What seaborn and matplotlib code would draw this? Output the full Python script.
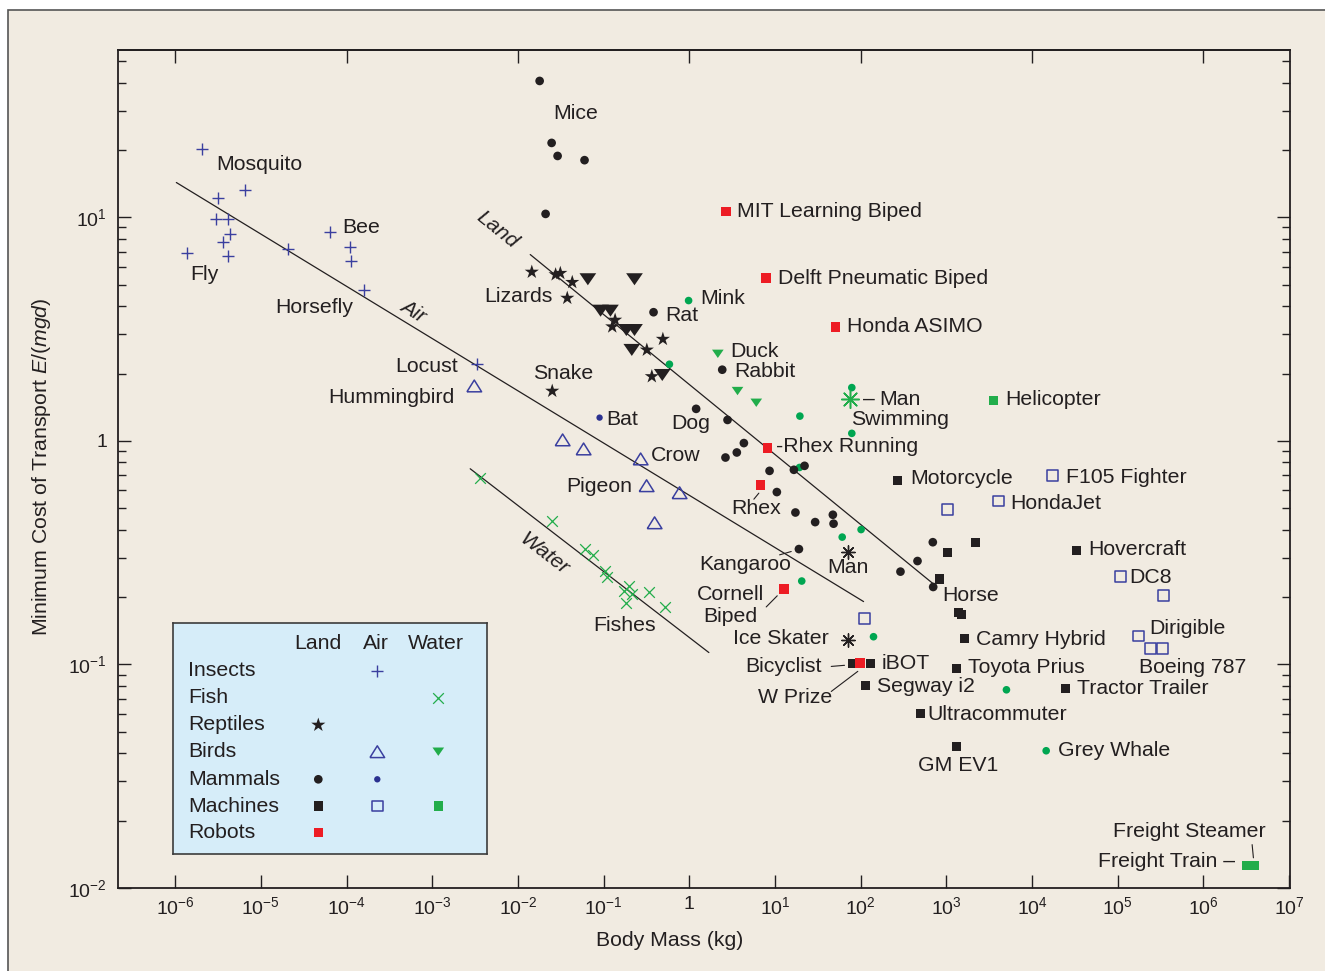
import matplotlib
matplotlib.use('Agg')
import matplotlib.pyplot as plt
from matplotlib.patches import Rectangle
from matplotlib.ticker import FixedLocator, FixedFormatter, NullLocator, NullFormatter, LogLocator
import numpy as np
import seaborn as sns

sns.set_style('ticks')
plt.rcParams['font.family'] = ['Liberation Sans', 'DejaVu Sans']
plt.rcParams['mathtext.fontset'] = 'custom'
plt.rcParams['mathtext.rm'] = 'Liberation Sans'
plt.rcParams['mathtext.it'] = 'Liberation Sans:italic'
plt.rcParams['mathtext.bf'] = 'Liberation Sans:bold'

INK = '#231f20'
BLUE = '#3a3f9f'
DBLUE = '#2b3190'
GREEN = '#22ad4b'
GDOT = '#00a651'
RED = '#ed1c24'
BEIGE = '#f1ebe1'
LEGEND_BG = '#d6edf9'
FS = 15.3

# ---------------- data: body mass (kg) / cost of transport ----------------
insects_mass = [2.07e-6, 3.18e-6, 6.45e-6, 3.02e-6, 4.09e-6, 4.31e-6, 3.57e-6, 1.36e-6,
                4.09e-6, 2.09e-5, 6.33e-5, 1.11e-4, 1.14e-4, 1.58e-4, 3.31e-3]
insects_cost = [20.2, 12.2, 13.2, 9.83, 9.83, 8.42, 7.76, 6.92, 6.71, 7.21, 8.59, 7.37, 6.38, 4.73, 2.20]

fish_mass = [3.6e-3, 0.0247, 0.0598, 0.0748, 0.105, 0.109, 0.195, 0.175, 0.216, 0.183, 0.337, 0.523]
fish_cost = [0.683, 0.439, 0.327, 0.310, 0.262, 0.245, 0.225, 0.212, 0.207, 0.189, 0.211, 0.180]

reptiles_mass = [0.0145, 0.0275, 0.0312, 0.043, 0.0376, 0.136, 0.126, 0.491, 0.319, 0.365, 0.0251]
reptiles_cost = [5.69, 5.54, 5.62, 5.12, 4.35, 3.47, 3.24, 2.85, 2.55, 1.94, 1.67]

birds_land_mass = [0.0654, 0.229, 0.092, 0.120, 0.184, 0.229, 0.213, 0.483]
birds_land_cost = [5.28, 5.28, 3.82, 3.82, 3.13, 3.13, 2.55, 1.97]

birds_air_mass = [3.09e-3, 0.0332, 0.0583, 0.27, 0.317, 0.769, 0.393]
birds_air_cost = [1.76, 1.01, 0.92, 0.83, 0.63, 0.586, 0.43]

birds_water_mass = [2.15, 3.65, 6.04]
birds_water_cost = [2.45, 1.67, 1.48]

mammals_land_mass = [0.0179, 0.0247, 0.029, 0.0598, 0.021, 0.382, 2.42, 1.20, 2.79, 4.33, 3.58,
                     2.64, 8.63, 16.6, 22.1, 10.5, 17.3, 29.4, 47.3, 48.2, 19.0, 694, 460, 291, 701]
mammals_land_cost = [40.7, 21.5, 18.8, 18.0, 10.35, 3.76, 2.08, 1.39, 1.24, 0.977, 0.887,
                     0.842, 0.734, 0.742, 0.773, 0.590, 0.478, 0.433, 0.467, 0.426, 0.328,
                     0.352, 0.290, 0.260, 0.222]

mammals_water_mass = [0.98, 0.585, 19.5, 78.7, 78.7, 19.3, 101, 60.8, 20.5, 141, 5020, 14600]
mammals_water_cost = [4.24, 2.20, 1.29, 1.73, 1.08, 0.76, 0.401, 0.371, 0.236, 0.133, 0.077, 0.0411]

mammals_air_mass = [0.0896]
mammals_air_cost = [1.27]

humans_land_mass = [70.8, 70.8]          # man running, ice skater
humans_land_cost = [0.318, 0.128]
humans_water_mass = [74.6]               # man swimming
humans_water_cost = [1.54]

machines_land_mass = [271, 1038, 2200, 838, 1395, 1487, 1640, 32700, 1300, 24300, 502, 1300,
                      79.6, 129, 115]
machines_land_cost = [0.663, 0.318, 0.352, 0.241, 0.171, 0.168, 0.131, 0.322, 0.0960, 0.0781,
                      0.0604, 0.043, 0.1007, 0.1014, 0.0805]

machines_air_mass = [17400, 4090, 1038, 108000, 339000, 176000, 239000, 335000, 111]
machines_air_cost = [0.698, 0.539, 0.493, 0.247, 0.203, 0.134, 0.1175, 0.1175, 0.161]

machines_water_mass = [3570, 3.18e6, 3.94e6]
machines_water_cost = [1.51, 0.0126, 0.0126]

robots_mass = [2.69, 7.89, 50.8, 8.17, 6.78, 12.8, 97.6]
robots_cost = [10.6, 5.34, 3.23, 0.928, 0.636, 0.217, 0.1014]

# fitted trend lines (end points)
air_line_mass = [1.03e-6, 108]
air_line_cost = [14.3, 0.191]
land_line_mass = [0.0139, 726]
land_line_cost = [6.81, 0.227]
water_line_mass = [2.77e-3, 1.69]
water_line_cost = [0.750, 0.113]

# annotation text: (text, log10 mass, log10 cost, ha)
labels = [
    ('Mosquito', -5.517, 1.234, 'left'), ('Fly', -5.819, 0.742, 'left'),
    ('Horsefly', -4.828, 0.595, 'left'), ('Bee', -4.050, 0.952, 'left'),
    ('Locust', -2.701, 0.332, 'right'), ('Hummingbird', -2.740, 0.192, 'right'),
    ('Mice', -1.585, 1.462, 'left'), ('Lizards', -2.390, 0.644, 'left'),
    ('Rat', -0.281, 0.559, 'left'), ('Mink', 0.127, 0.635, 'left'),
    ('Snake', -1.826, 0.300, 'left'), ('Duck', 0.481, 0.399, 'left'),
    ('Rabbit', 0.519, 0.312, 'left'), ('Bat', -0.970, 0.094, 'left'),
    ('Dog', -0.211, 0.079, 'left'), ('Crow', -0.445, -0.067, 'left'),
    ('Pigeon', -0.663, -0.204, 'right'), ('Rhex', 0.489, -0.304, 'left'),
    ('-Rhex Running', 1.014, -0.025, 'left'), ('–', 2.021, 0.186, 'left'),
    ('Man', 2.219, 0.186, 'left'), ('Swimming', 1.889, 0.097, 'left'),
    ('Kangaroo', 0.119, -0.551, 'left'), ('Man', 1.604, -0.566, 'left'),
    ('Cornell', 0.092, -0.688, 'left'), ('Biped', 0.166, -0.785, 'left'),
    ('Fishes', -1.118, -0.827, 'left'), ('Ice Skater', 1.624, -0.882, 'right'),
    ('Bicyclist', 0.656, -1.009, 'left'), ('W Prize', 0.807, -1.150, 'left'),
    ('iBOT', 2.246, -0.998, 'left'), ('Segway i2', 2.188, -1.098, 'left'),
    ('Ultracommuter', 2.783, -1.225, 'left'), ('GM EV1', 2.666, -1.453, 'left'),
    ('Grey Whale', 4.300, -1.386, 'left'), ('Toyota Prius', 3.250, -1.016, 'left'),
    ('Tractor Trailer', 4.522, -1.109, 'left'), ('Boeing 787', 5.253, -1.016, 'left'),
    ('Freight Steamer', 4.942, -1.747, 'left'), ('Freight Train –', 4.767, -1.881, 'left'),
    ('Camry Hybrid', 3.348, -0.890, 'left'), ('Dirigible', 5.370, -0.840, 'left'),
    ('Horse', 2.951, -0.693, 'left'), ('Hovercraft', 4.659, -0.487, 'left'),
    ('DC8', 5.138, -0.611, 'left'), ('Motorcycle', 2.581, -0.169, 'left'),
    ('HondaJet', 3.744, -0.279, 'left'), ('F105 Fighter', 4.390, -0.164, 'left'),
    ('Helicopter', 3.686, 0.183, 'left'), ('MIT Learning Biped', 0.559, 1.024, 'left'),
    ('Delft Pneumatic Biped', 1.033, 0.727, 'left'), ('Honda ASIMO', 1.838, 0.510, 'left'),
]
# leader lines (log10 mass pair, log10 cost pair)
leaders = [
    ((0.811, 0.753), (-0.234, -0.261)), ((1.053, 1.189), (-0.510, -0.495)),
    ((0.897, 1.026), (-0.743, -0.693)), ((1.656, 1.811), (-1.009, -1.004)),
    ((1.656, 1.966), (-1.121, -1.031)), ((6.568, 6.583), (-1.806, -1.865)),
]
# trend line names: (text, log10 mass, log10 cost, rotation)
line_names = [('Land', -2.237, 0.943, -39), ('Air', -3.230, 0.581, -31.5),
              ('Water', -1.701, -0.505, -37.5)]

xticks = [10.0 ** k for k in range(-6, 8)]
xtick_labels = [r'$10^{%d}$' % k if k != 0 else '1' for k in range(-6, 8)]
yticks = [1e-2, 1e-1, 1, 10]
ytick_labels = [r'$10^{-2}$', r'$10^{-1}$', '1', r'$10^{1}$']

# marker shapes
TRI_DOWN = [(-1, 0.72), (1, 0.72), (0, -0.72), (-1, 0.72)]
TRI_UP = [(-1, -0.8), (1, -0.8), (0, 0.8), (-1, -0.8)]
ASTER = (8, 2, 0)

styles = {
    'insects': dict(marker='+', s=79, color=BLUE, linewidth=1.0),
    'fish': dict(marker='x', s=59, color=GREEN, linewidth=0.9),
    'reptiles': dict(marker='*', s=115, color=INK, edgecolor='none', linewidth=0),
    'birds_land': dict(marker=TRI_DOWN, s=145, color=INK, edgecolor='none', linewidth=0),
    'birds_air': dict(marker=TRI_UP, s=112, color=BLUE, facecolor='none', edgecolor=BLUE, linewidth=1.1),
    'birds_water': dict(marker=TRI_DOWN, s=70, color=GREEN, edgecolor='none', linewidth=0),
    'mammals_land': dict(marker='o', s=39, color=INK, edgecolor='none', linewidth=0),
    'mammals_air': dict(marker='o', s=21, color=DBLUE, edgecolor='none', linewidth=0),
    'mammals_water': dict(marker='o', s=30, color=GDOT, edgecolor='none', linewidth=0),
    'machines_land': dict(marker='s', s=42, color=INK, edgecolor='none', linewidth=0),
    'machines_air': dict(marker='s', s=59, color=BLUE, facecolor='none', edgecolor=BLUE, linewidth=1.1),
    'machines_water': dict(marker='s', s=42, color=GREEN, edgecolor='none', linewidth=0),
    'robots': dict(marker='s', s=47, color=RED, edgecolor='none', linewidth=0),
}

fig = plt.figure(figsize=(13.25, 9.71), dpi=100)
fig.patch.set_facecolor('white')
fig.add_artist(Rectangle((8 / 1325, -0.02), 1.02, 0.02 + 1 - 10 / 971, transform=fig.transFigure,
                         facecolor=BEIGE, edgecolor='#555555', lw=1.2, zorder=-10))

ax = fig.add_axes([118 / 1325, 83 / 971, 1172 / 1325, 838 / 971])
ax.set_facecolor(BEIGE)
ax.set_xscale('log')
ax.set_yscale('log')

# trend lines
for lm, lc in [(air_line_mass, air_line_cost), (land_line_mass, land_line_cost),
               (water_line_mass, water_line_cost)]:
    sns.lineplot(x=lm, y=lc, ax=ax, color=INK, lw=0.9, estimator=None, sort=False)

groups = [
    ('insects', insects_mass, insects_cost), ('fish', fish_mass, fish_cost),
    ('birds_land', birds_land_mass, birds_land_cost), ('reptiles', reptiles_mass, reptiles_cost),
    ('birds_air', birds_air_mass, birds_air_cost), ('birds_water', birds_water_mass, birds_water_cost),
    ('mammals_water', mammals_water_mass, mammals_water_cost),
    ('mammals_land', mammals_land_mass, mammals_land_cost),
    ('mammals_air', mammals_air_mass, mammals_air_cost),
    ('machines_land', machines_land_mass, machines_land_cost),
    ('machines_air', machines_air_mass, machines_air_cost),
    ('machines_water', machines_water_mass, machines_water_cost),
    ('robots', robots_mass, robots_cost),
]
for key, m, c in groups:
    sns.scatterplot(x=m, y=c, ax=ax, legend=False, zorder=3, **styles[key])

sns.scatterplot(x=humans_land_mass, y=humans_land_cost, ax=ax, legend=False, marker=ASTER,
                s=92, color=INK, linewidth=1.0, zorder=3)
sns.scatterplot(x=humans_water_mass, y=humans_water_cost, ax=ax, legend=False, marker=ASTER,
                s=162, color=GREEN, linewidth=1.1, zorder=3)

for txt, lx, ly, ha in labels:
    ax.text(10 ** lx, 10 ** ly, txt, ha=ha, va='center', fontsize=FS, color=INK)
for (x0, x1), (y0, y1) in leaders:
    ax.plot([10 ** x0, 10 ** x1], [10 ** y0, 10 ** y1], color=INK, lw=0.8)
for txt, lx, ly, rot in line_names:
    ax.text(10 ** lx, 10 ** ly, txt, ha='center', va='center', rotation=rot,
            rotation_mode='anchor', fontsize=FS, style='italic', color=INK)

ax.set_xlim(10 ** -6.668, 10 ** 7.01)
ax.set_ylim(1e-2, 10 ** 1.748)
ax.xaxis.set_major_locator(FixedLocator(xticks))
ax.xaxis.set_major_formatter(FixedFormatter(xtick_labels))
ax.xaxis.set_minor_locator(NullLocator())
ax.yaxis.set_major_locator(FixedLocator(yticks))
ax.yaxis.set_major_formatter(FixedFormatter(ytick_labels))
ax.yaxis.set_minor_locator(LogLocator(base=10, subs=np.arange(2, 10)))
ax.yaxis.set_minor_formatter(NullFormatter())
ax.tick_params(which='both', direction='in', left=True, right=True, bottom=True, top=False,
               color=INK, width=1.0, labelcolor=INK)
ax.tick_params(which='major', length=9.5)
ax.tick_params(which='minor', length=5.5)
ax.tick_params(axis='x', pad=6, labelsize=14)
ax.tick_params(axis='y', pad=8, labelsize=14)
for sp in ax.spines.values():
    sp.set_color(INK)
    sp.set_linewidth(1.3)

sec = ax.secondary_xaxis('top')
sec.set_xticks(xticks[::2])
sec.xaxis.set_major_formatter(NullFormatter())
sec.xaxis.set_minor_locator(NullLocator())
sec.tick_params(direction='in', length=9.5, width=1.0, color=INK)
sec.spines['top'].set_linewidth(1.3)
sec.spines['top'].set_color(INK)

fig.text(669.5 / 1325, 1 - 940 / 971, 'Body Mass (kg)', ha='center', va='center',
         fontsize=FS, color=INK)
fig.text(42 / 1325, 1 - 467 / 971, r'Minimum Cost of Transport $\mathit{E/(mgd)}$',
         ha='center', va='center', rotation=90, fontsize=FS, color=INK)

# ---------------- legend table ----------------
leg_cols = ['Land', 'Air', 'Water']
leg_rows = ['Insects', 'Fish', 'Reptiles', 'Birds', 'Mammals', 'Machines', 'Robots']
leg_entries = {
    ('Insects', 'Air'): 'insects', ('Fish', 'Water'): 'fish', ('Reptiles', 'Land'): 'reptiles',
    ('Birds', 'Air'): 'birds_air', ('Birds', 'Water'): 'birds_water',
    ('Mammals', 'Land'): 'mammals_land', ('Mammals', 'Air'): 'mammals_air',
    ('Machines', 'Land'): 'machines_land', ('Machines', 'Air'): 'machines_air',
    ('Machines', 'Water'): 'machines_water', ('Robots', 'Land'): 'robots',
}
W, H = 314.6, 231.3
lax = fig.add_axes([172.7 / 1325, (971 - 854) / 971, W / 1325, H / 971])
lax.set_facecolor(LEGEND_BG)
lax.set_xlim(0, W)
lax.set_ylim(H, 0)
lax.set_xticks([])
lax.set_yticks([])
for sp in lax.spines.values():
    sp.set_color('#3c3c3c')
    sp.set_linewidth(1.2)

head_x = [145.6, 203.3, 263.3]
mark_x = [145.6, 204.6, 265.6]
row_y = [48.3, 75, 102.3, 129, 156.6, 183.3, 210]
for hx, name in zip(head_x, leg_cols):
    lax.text(hx, 20.6, name, ha='center', va='center', fontsize=FS, color=INK)
for ry, name in zip(row_y, leg_rows):
    lax.text(15.3, ry, name, ha='left', va='center', fontsize=FS, color=INK)
    for mx, col in zip(mark_x, leg_cols):
        key = leg_entries.get((name, col))
        if key is None:
            continue
        sns.scatterplot(x=[mx], y=[ry], ax=lax, legend=False, **styles[key])
lax.set_xlim(0, W)
lax.set_ylim(H, 0)
lax.set_xlabel('')
lax.set_ylabel('')

fig.savefig('out.png', dpi=100, facecolor=fig.get_facecolor())
